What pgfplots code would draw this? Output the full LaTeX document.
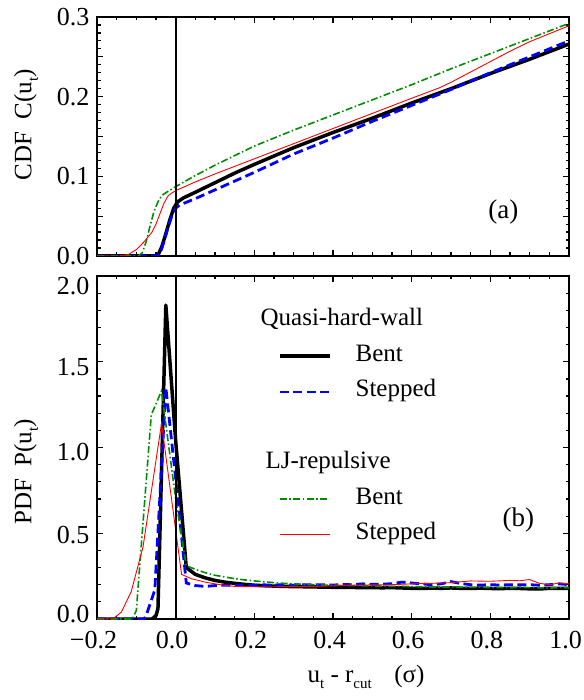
\documentclass[border=0pt]{standalone}
\usepackage{fontspec}
\setmainfont{Liberation Serif}
\usepackage{pgfplots}
\pgfplotsset{compat=1.18}
\usetikzlibrary{calc}
\definecolor{myblue}{rgb}{0,0,1}
\definecolor{mygreen}{rgb}{0,0.55,0}
\definecolor{myred}{rgb}{1,0,0}
\pgfplotsset{
 panel/.style={
  scale only axis, width=472pt, xmin=-0.2, xmax=1.0,
  xtick={-0.2,0,0.2,0.4,0.6,0.8,1.0}, minor x tick num=3,
  axis line style={line width=1.4pt},
  major tick length=6pt, minor tick length=3.5pt,
  every tick/.style={black, line width=1.2pt},
  tick align=inside,
  tick label style={font=\fontsize{26}{30}\selectfont},
  label style={font=\fontsize{25}{29}\selectfont},
  yticklabel style={xshift=-4pt},
 },
 sBlack/.style={color=black, line width=3.5pt, line join=round},
 sBlue/.style={color=myblue, line width=2.8pt, dash pattern=on 9pt off 4.5pt},
 sGreen/.style={color=mygreen, line width=1.6pt, dash pattern=on 7pt off 2.5pt on 1.5pt off 2.5pt},
 sRed/.style={color=myred, line width=0.9pt},
}
\newcommand{\sub}[1]{\raisebox{-0.55ex}{\fontsize{15}{15}\selectfont #1}}
\newcommand{\yl}[2]{\raisebox{#1}[0pt][0pt]{#2}}
\begin{document}
\begin{tikzpicture}
%---------------- top panel: CDF
\begin{axis}[panel, name=top, height=239pt, ymin=0, ymax=0.3,
  ytick={0,0.05,0.1,0.15,0.2,0.25,0.3},
  yticklabels={0.0,,0.1,,0.2,,0.3},
  minor y tick num=4, xticklabels={},
  ylabel={CDF\hspace{0.5em}C(u\sub{t})},
  ylabel style={at={(axis description cs:-0.1504,0.548)}, anchor=center},
]
\addplot[sBlack] coordinates {(-0.2,0) (-0.05,0) (-0.045,0.001) (-0.035,0.012) (-0.025,0.028) (-0.015,0.045) (-0.005,0.060) (0.005,0.068) (0.02,0.073) (0.05,0.080) (0.1,0.092) (0.15,0.104) (0.2,0.115) (0.3,0.136) (0.4,0.155) (0.5,0.173) (0.6,0.192) (0.7,0.210) (0.8,0.229) (0.9,0.247) (1.0,0.266)};
\addplot[sBlue] coordinates {(-0.2,0) (-0.05,0) (-0.04,0.002) (-0.03,0.018) (-0.02,0.035) (-0.01,0.050) (0.0,0.060) (0.01,0.064) (0.05,0.072) (0.1,0.083) (0.2,0.105) (0.3,0.128) (0.4,0.148) (0.5,0.169) (0.6,0.189) (0.7,0.209) (0.8,0.230) (0.9,0.250) (1.0,0.270)};
\addplot[sGreen] coordinates {(-0.2,0) (-0.095,0) (-0.085,0.004) (-0.075,0.018) (-0.065,0.038) (-0.055,0.056) (-0.045,0.068) (-0.035,0.076) (-0.02,0.081) (0,0.087) (0.05,0.101) (0.1,0.114) (0.15,0.126) (0.2,0.138) (0.3,0.158) (0.4,0.177) (0.5,0.196) (0.6,0.215) (0.7,0.235) (0.8,0.254) (0.9,0.273) (1.0,0.292)};
\addplot[sRed] coordinates {(-0.2,0) (-0.14,0) (-0.12,0.002) (-0.1,0.008) (-0.08,0.018) (-0.06,0.030) (-0.05,0.040) (-0.04,0.053) (-0.03,0.066) (-0.02,0.075) (-0.01,0.079) (0,0.082) (0.05,0.093) (0.1,0.103) (0.2,0.122) (0.3,0.141) (0.4,0.160) (0.5,0.179) (0.6,0.198) (0.67,0.211) (0.7,0.218) (0.75,0.231) (0.8,0.244) (0.85,0.257) (0.9,0.269) (1.0,0.289)};
\addplot[black, line width=2pt, forget plot] coordinates {(0,0) (0,0.3)};
\node[font=\fontsize{27}{31}\selectfont] at (axis cs:0.833,0.055) {(a)};
\end{axis}
%---------------- bottom panel: PDF
\begin{axis}[panel, name=bot, height=343pt, ymin=0, ymax=2,
  at={($(top.south west)+(0,-20pt)$)}, anchor=north west,
  ytick={0,0.5,1,1.5,2},
  yticklabels={\yl{-3pt}{0.0},\yl{-10.5pt}{0.5},\yl{-13pt}{1.0},\yl{-13.5pt}{1.5},\yl{-19pt}{2.0}},
  minor y tick num=4,
  xticklabels={−0.2,0.0,0.2,0.4,0.6,0.8,1.0},
  xticklabel style={yshift=-9pt, xshift=-3.5pt},
  ylabel={PDF\hspace{0.5em}P(u\sub{t})},
  ylabel style={at={(axis description cs:-0.1504,0.4286)}, anchor=center},
  xlabel={u\sub{t} - r\sub{cut}\hspace{0.9em}(σ)},
  xlabel style={at={(axis description cs:0.57,0)}, anchor=base, yshift=-63pt},
  legend image code/.code={\draw[#1] (0pt,0pt) -- (50pt,0pt);},
  legend cell align=left,
  legend style={at={(axis cs:0.26,1.80)}, anchor=north west, draw=none, fill=none,
    inner sep=0pt, column sep=24pt, row sep=15.7pt,
    nodes={inner sep=0pt, text height=15pt, text depth=5pt, font=\fontsize{25}{29}\selectfont}},
]
\addplot[sBlack, forget plot] coordinates {(-0.2,0) (-0.06,0) (-0.05,0.02) (-0.045,0.06) (-0.025,1.83) (0.0,1.04) (0.027,0.30) (0.05,0.26) (0.075,0.24) (0.1,0.225) (0.125,0.215) (0.15,0.208) (0.175,0.202) (0.2,0.197) (0.225,0.194) (0.25,0.192) (0.275,0.19) (0.3,0.189) (0.325,0.188) (0.35,0.187) (0.375,0.186) (0.4,0.185) (0.425,0.184) (0.45,0.184) (0.475,0.183) (0.5,0.183) (0.525,0.182) (0.55,0.183) (0.575,0.181) (0.6,0.179) (0.625,0.178) (0.65,0.180) (0.675,0.179) (0.7,0.181) (0.725,0.179) (0.75,0.178) (0.775,0.18) (0.8,0.178) (0.825,0.177) (0.85,0.179) (0.875,0.178) (0.9,0.176) (0.925,0.175) (0.95,0.179) (0.975,0.178) (1.0,0.179)};
\addplot[sBlue, forget plot] coordinates {(-0.2,0) (-0.08,0) (-0.075,0.02) (-0.053,0.17) (-0.025,1.35) (0.0,0.82) (0.027,0.21) (0.05,0.195) (0.075,0.19) (0.1,0.195) (0.125,0.197) (0.15,0.196) (0.175,0.198) (0.2,0.197) (0.225,0.199) (0.25,0.198) (0.275,0.2) (0.3,0.197) (0.325,0.2) (0.35,0.199) (0.375,0.2) (0.4,0.198) (0.425,0.201) (0.45,0.2) (0.475,0.205) (0.5,0.202) (0.525,0.203) (0.55,0.206) (0.575,0.215) (0.6,0.21) (0.625,0.205) (0.65,0.2) (0.675,0.205) (0.7,0.218) (0.725,0.207) (0.75,0.2) (0.775,0.198) (0.8,0.2) (0.825,0.198) (0.85,0.2) (0.875,0.199) (0.9,0.2) (0.925,0.197) (0.95,0.2) (0.975,0.205) (1.0,0.2)};
\addplot[sGreen, forget plot] coordinates {(-0.2,0) (-0.11,0) (-0.1,0.05) (-0.062,1.19) (-0.036,1.33) (0.0,0.70) (0.027,0.31) (0.05,0.29) (0.075,0.27) (0.1,0.255) (0.125,0.245) (0.15,0.235) (0.175,0.228) (0.2,0.222) (0.225,0.217) (0.25,0.212) (0.275,0.208) (0.3,0.205) (0.325,0.203) (0.35,0.2) (0.375,0.198) (0.4,0.197) (0.425,0.196) (0.45,0.195) (0.475,0.194) (0.5,0.193) (0.525,0.192) (0.55,0.19) (0.575,0.191) (0.6,0.189) (0.625,0.188) (0.65,0.186) (0.675,0.187) (0.7,0.185) (0.725,0.186) (0.75,0.184) (0.775,0.185) (0.8,0.183) (0.825,0.184) (0.85,0.182) (0.875,0.184) (0.9,0.183) (0.925,0.182) (0.95,0.18) (0.975,0.183) (1.0,0.182)};
\addplot[sRed, forget plot] coordinates {(-0.2,0) (-0.16,0) (-0.138,0.04) (-0.113,0.16) (-0.083,0.42) (-0.036,1.14) (0.015,0.26) (0.04,0.235) (0.075,0.215) (0.1,0.205) (0.125,0.196) (0.15,0.19) (0.2,0.188) (0.25,0.188) (0.3,0.19) (0.35,0.19) (0.4,0.193) (0.45,0.197) (0.5,0.199) (0.55,0.2) (0.6,0.205) (0.65,0.208) (0.7,0.212) (0.75,0.222) (0.8,0.22) (0.85,0.225) (0.875,0.223) (0.9,0.23) (0.925,0.208) (0.95,0.2) (0.975,0.21) (1.0,0.205)};
\addplot[black, line width=2pt, forget plot] coordinates {(0,0) (0,2)};
\addlegendimage{empty legend}\addlegendentry{\hspace*{-95pt}Quasi-hard-wall}
\addlegendimage{sBlack}\addlegendentry{Bent}
\addlegendimage{sBlue}\addlegendentry{Stepped}
\addlegendimage{empty legend}\addlegendentry{}
\addlegendimage{empty legend}\addlegendentry{\hspace*{-90pt}LJ-repulsive}
\addlegendimage{sGreen}\addlegendentry{Bent}
\addlegendimage{color=myred, line width=1pt}\addlegendentry{Stepped}
\node[font=\fontsize{27}{31}\selectfont] at (axis cs:0.871,0.577) {(b)};
\end{axis}
\pgfresetboundingbox
\path ($(top.north west)+(-97pt,17pt)$) rectangle ($(bot.south east)+(14pt,-81pt)$);
\end{tikzpicture}
\end{document}
